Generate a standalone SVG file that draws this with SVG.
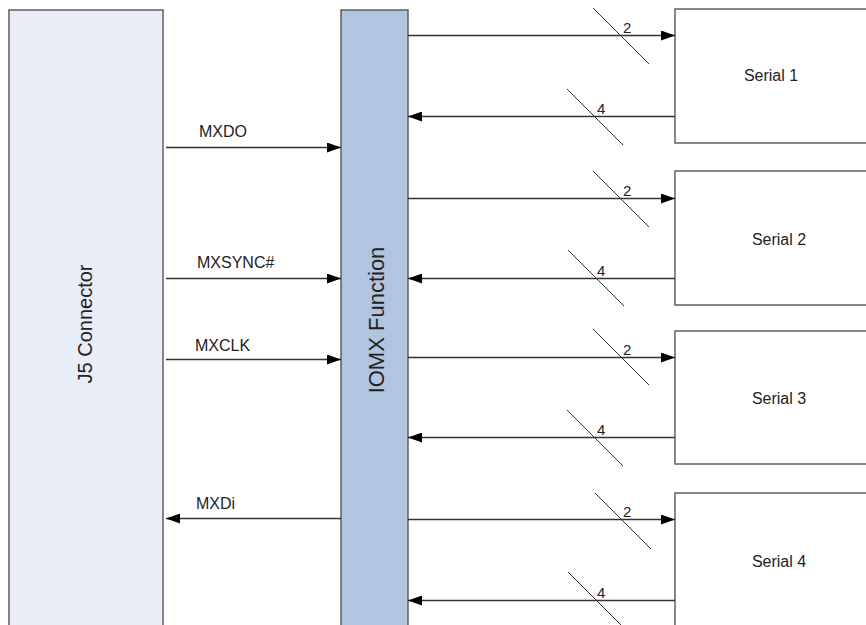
<svg xmlns="http://www.w3.org/2000/svg" width="866" height="625" viewBox="0 0 866 625">
<defs>
<marker id="ah" viewBox="0 0 14 10" refX="14" refY="5" markerWidth="14" markerHeight="10" markerUnits="userSpaceOnUse" orient="auto">
<path d="M0,0 L14,5 L0,10 Z" fill="#000"/>
</marker>
<style>
.box{stroke:#555;stroke-width:1.4}
.lbl{font-family:"Liberation Sans",Arial,sans-serif;fill:#222}
.sig{font-size:16px}
.ser{font-size:16px;text-anchor:middle}
.num{font-size:15px}
.conn{stroke:#333;stroke-width:1.6;fill:none}
.arr{marker-end:url(#ah)}
.slash{stroke:#333;stroke-width:1;fill:none}
</style>
</defs>
<rect width="866" height="625" fill="#fff"/>
<g id="j5">
<rect class="box" x="9" y="10" width="154" height="630" fill="#e8edf7"/>
<text class="lbl" font-size="20" text-anchor="middle" transform="translate(92,324) rotate(-90)">J5 Connector</text>
</g>
<g id="iomx">
<rect class="box" x="341" y="10" width="67" height="630" fill="#b1c5e0"/>
<text class="lbl" font-size="22" text-anchor="middle" transform="translate(384,320) rotate(-90)">IOMX Function</text>
</g>
<g id="serial1">
<rect class="box" x="675" y="9" width="200" height="134" fill="#fff"/>
<text class="lbl ser" x="771" y="81">Serial 1</text>
</g>
<g id="serial2">
<rect class="box" x="675" y="171" width="200" height="134" fill="#fff"/>
<text class="lbl ser" x="779" y="245">Serial 2</text>
</g>
<g id="serial3">
<rect class="box" x="675" y="331" width="200" height="133" fill="#fff"/>
<text class="lbl ser" x="779" y="404">Serial 3</text>
</g>
<g id="serial4">
<rect class="box" x="675" y="493" width="200" height="150" fill="#fff"/>
<text class="lbl ser" x="779" y="567">Serial 4</text>
</g>
<g id="connectors">
<line class="conn arr" x1="166" y1="147.5" x2="341" y2="147.5"/>
<line class="conn arr" x1="166" y1="278.5" x2="341" y2="278.5"/>
<line class="conn arr" x1="166" y1="359.5" x2="341" y2="359.5"/>
<line class="conn arr" x1="341" y1="518.5" x2="166" y2="518.5"/>
<text class="lbl sig" x="199" y="137">MXDO</text>
<text class="lbl sig" x="197" y="268">MXSYNC#</text>
<text class="lbl sig" x="195" y="351">MXCLK</text>
<text class="lbl sig" x="196" y="509">MXDi</text>

<line class="conn arr" x1="408" y1="35.5" x2="675" y2="35.5"/>
<line class="conn arr" x1="675" y1="116.5" x2="408" y2="116.5"/>
<line class="conn arr" x1="408" y1="198.5" x2="675" y2="198.5"/>
<line class="conn arr" x1="675" y1="278.5" x2="408" y2="278.5"/>
<line class="conn arr" x1="408" y1="357.5" x2="675" y2="357.5"/>
<line class="conn arr" x1="675" y1="437.5" x2="408" y2="437.5"/>
<line class="conn arr" x1="408" y1="519.5" x2="675" y2="519.5"/>
<line class="conn arr" x1="675" y1="600.5" x2="408" y2="600.5"/>

<line class="slash" x1="593" y1="8" x2="649" y2="64"/>
<line class="slash" x1="567" y1="89" x2="623" y2="145"/>
<line class="slash" x1="593" y1="171" x2="649" y2="227"/>
<line class="slash" x1="568" y1="250" x2="624" y2="306"/>
<line class="slash" x1="593" y1="329" x2="649" y2="385"/>
<line class="slash" x1="567" y1="410" x2="623" y2="466"/>
<line class="slash" x1="595" y1="493" x2="651" y2="549"/>
<line class="slash" x1="568" y1="572" x2="624" y2="628"/>

<text class="lbl num" x="623" y="33">2</text>
<text class="lbl num" x="597" y="114">4</text>
<text class="lbl num" x="623" y="196">2</text>
<text class="lbl num" x="597" y="276">4</text>
<text class="lbl num" x="623" y="355">2</text>
<text class="lbl num" x="597" y="435">4</text>
<text class="lbl num" x="623" y="517">2</text>
<text class="lbl num" x="597" y="598">4</text>
</g>
</svg>
